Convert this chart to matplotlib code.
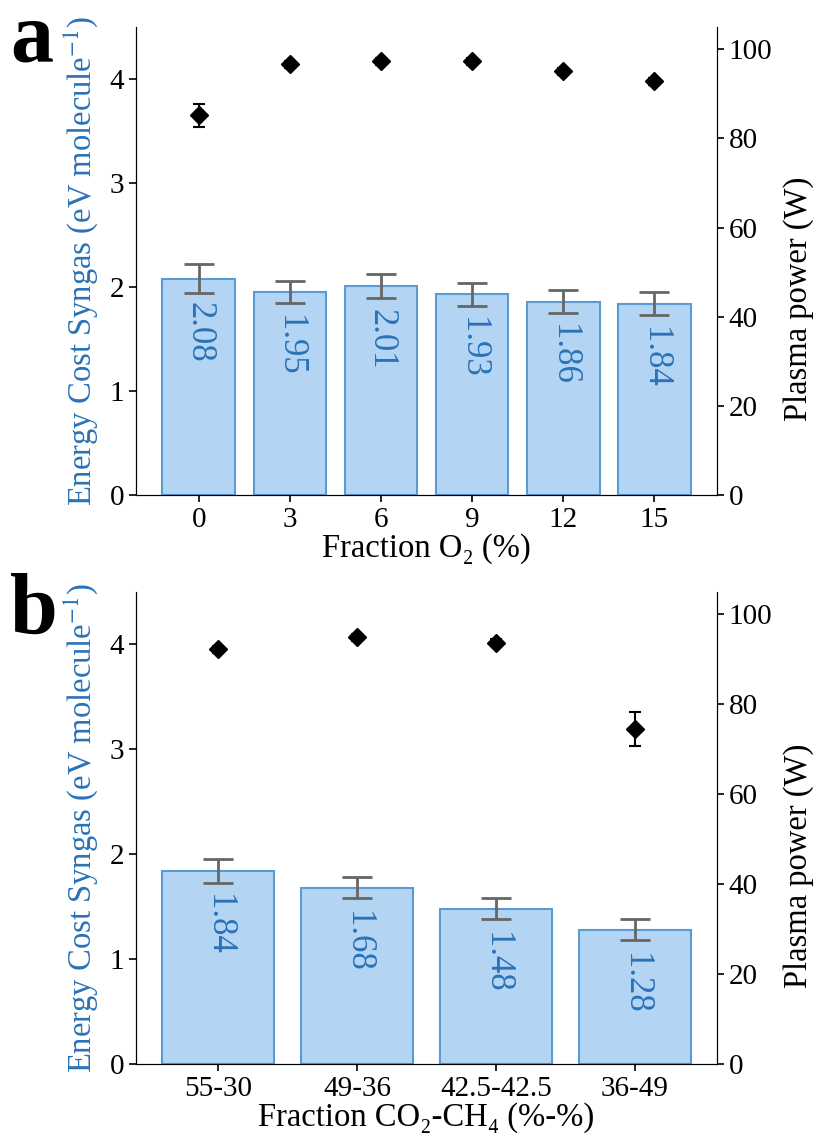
import numpy as np
import matplotlib
matplotlib.use('Agg')
import matplotlib.pyplot as plt

plt.rcParams['font.family'] = ['Liberation Serif', 'DejaVu Serif']
plt.rcParams['mathtext.fontset'] = 'stix'

# panel a data
o2_labels = ['0', '3', '6', '9', '12', '15']
o2_cost = [2.08, 1.95, 2.01, 1.93, 1.86, 1.84]
o2_cost_err = [0.14, 0.105, 0.115, 0.11, 0.11, 0.11]
o2_power = [85.2, 96.6, 97.3, 97.3, 95.1, 92.8]
o2_power_err = [2.6, 0.8, 0.8, 0.8, 0.8, 0.8]

# panel b data
mix_labels = ['55-30', '49-36', '42.5-42.5', '36-49']
mix_cost = [1.84, 1.68, 1.48, 1.28]
mix_cost_err = [0.11, 0.10, 0.10, 0.10]
mix_power = [92.2, 94.9, 93.7, 74.5]
mix_power_err = [0.8, 0.8, 0.8, 3.7]

bar_face = '#b3d5f3'
bar_edge = '#5b9bd5'
blue_txt = '#2a72b8'
tick_fs = 21
label_fs = 23.5

fig = plt.figure(figsize=(8.16, 11.41), dpi=100)
ax_a = fig.add_axes([0.1667, 0.5662, 0.712, 0.4101])
ax_b = fig.add_axes([0.1667, 0.0675, 0.712, 0.4137])


def panel(ax, labels, cost, cost_err, power, power_err, xlabel, letter, ytop):
    x = np.arange(len(labels))
    ax.bar(x, cost, width=0.8, color=bar_face, edgecolor=bar_edge, linewidth=1.5,
           yerr=cost_err, ecolor='#666666',
           error_kw=dict(capsize=11, elinewidth=2, capthick=2), zorder=2)
    for xi, v in zip(x, cost):
        ax.text(xi, v - 0.22, '%.2f' % v, rotation=270, ha='center', va='top',
                color=blue_txt, fontsize=25)
    ax.set_ylim(0, 4.5)
    ax.set_yticks([0, 1, 2, 3, 4])
    ax.set_xticks(x)
    ax.set_xticklabels(labels)
    ax.tick_params(labelsize=tick_fs, length=5, width=1.2)
    ax.set_xlabel(xlabel, fontsize=label_fs, labelpad=0)
    ax.set_ylabel('Energy Cost Syngas (eV molecule$^{-1}$)', fontsize=label_fs,
                  color=blue_txt)
    ax.yaxis.set_label_coords(-0.062, 0.5)
    ax.spines['top'].set_visible(False)

    ax2 = ax.twinx()
    ax2.errorbar(x, power, yerr=power_err, fmt='D', color='black', ms=9,
                 capsize=4, elinewidth=1.5, capthick=1.5)
    ax2.set_ylim(0, 105)
    ax2.set_yticks([0, 20, 40, 60, 80, 100])
    ax2.tick_params(labelsize=tick_fs, length=5, width=1.2)
    ax2.set_ylabel('Plasma power (W)', fontsize=label_fs)
    ax2.yaxis.set_label_coords(1.114, 0.42)
    ax2.spines['top'].set_visible(False)
    fig.text(0.012, ytop, letter, fontsize=62, fontweight='bold', va='baseline')


panel(ax_a, o2_labels, o2_cost, o2_cost_err, o2_power, o2_power_err,
      'Fraction O₂ (%)', 'a', 0.9457)
panel(ax_b, mix_labels, mix_cost, mix_cost_err, mix_power, mix_power_err,
      'Fraction CO₂-CH₄ (%-%)', 'b', 0.4452)

fig.savefig('out.png', dpi=100)
